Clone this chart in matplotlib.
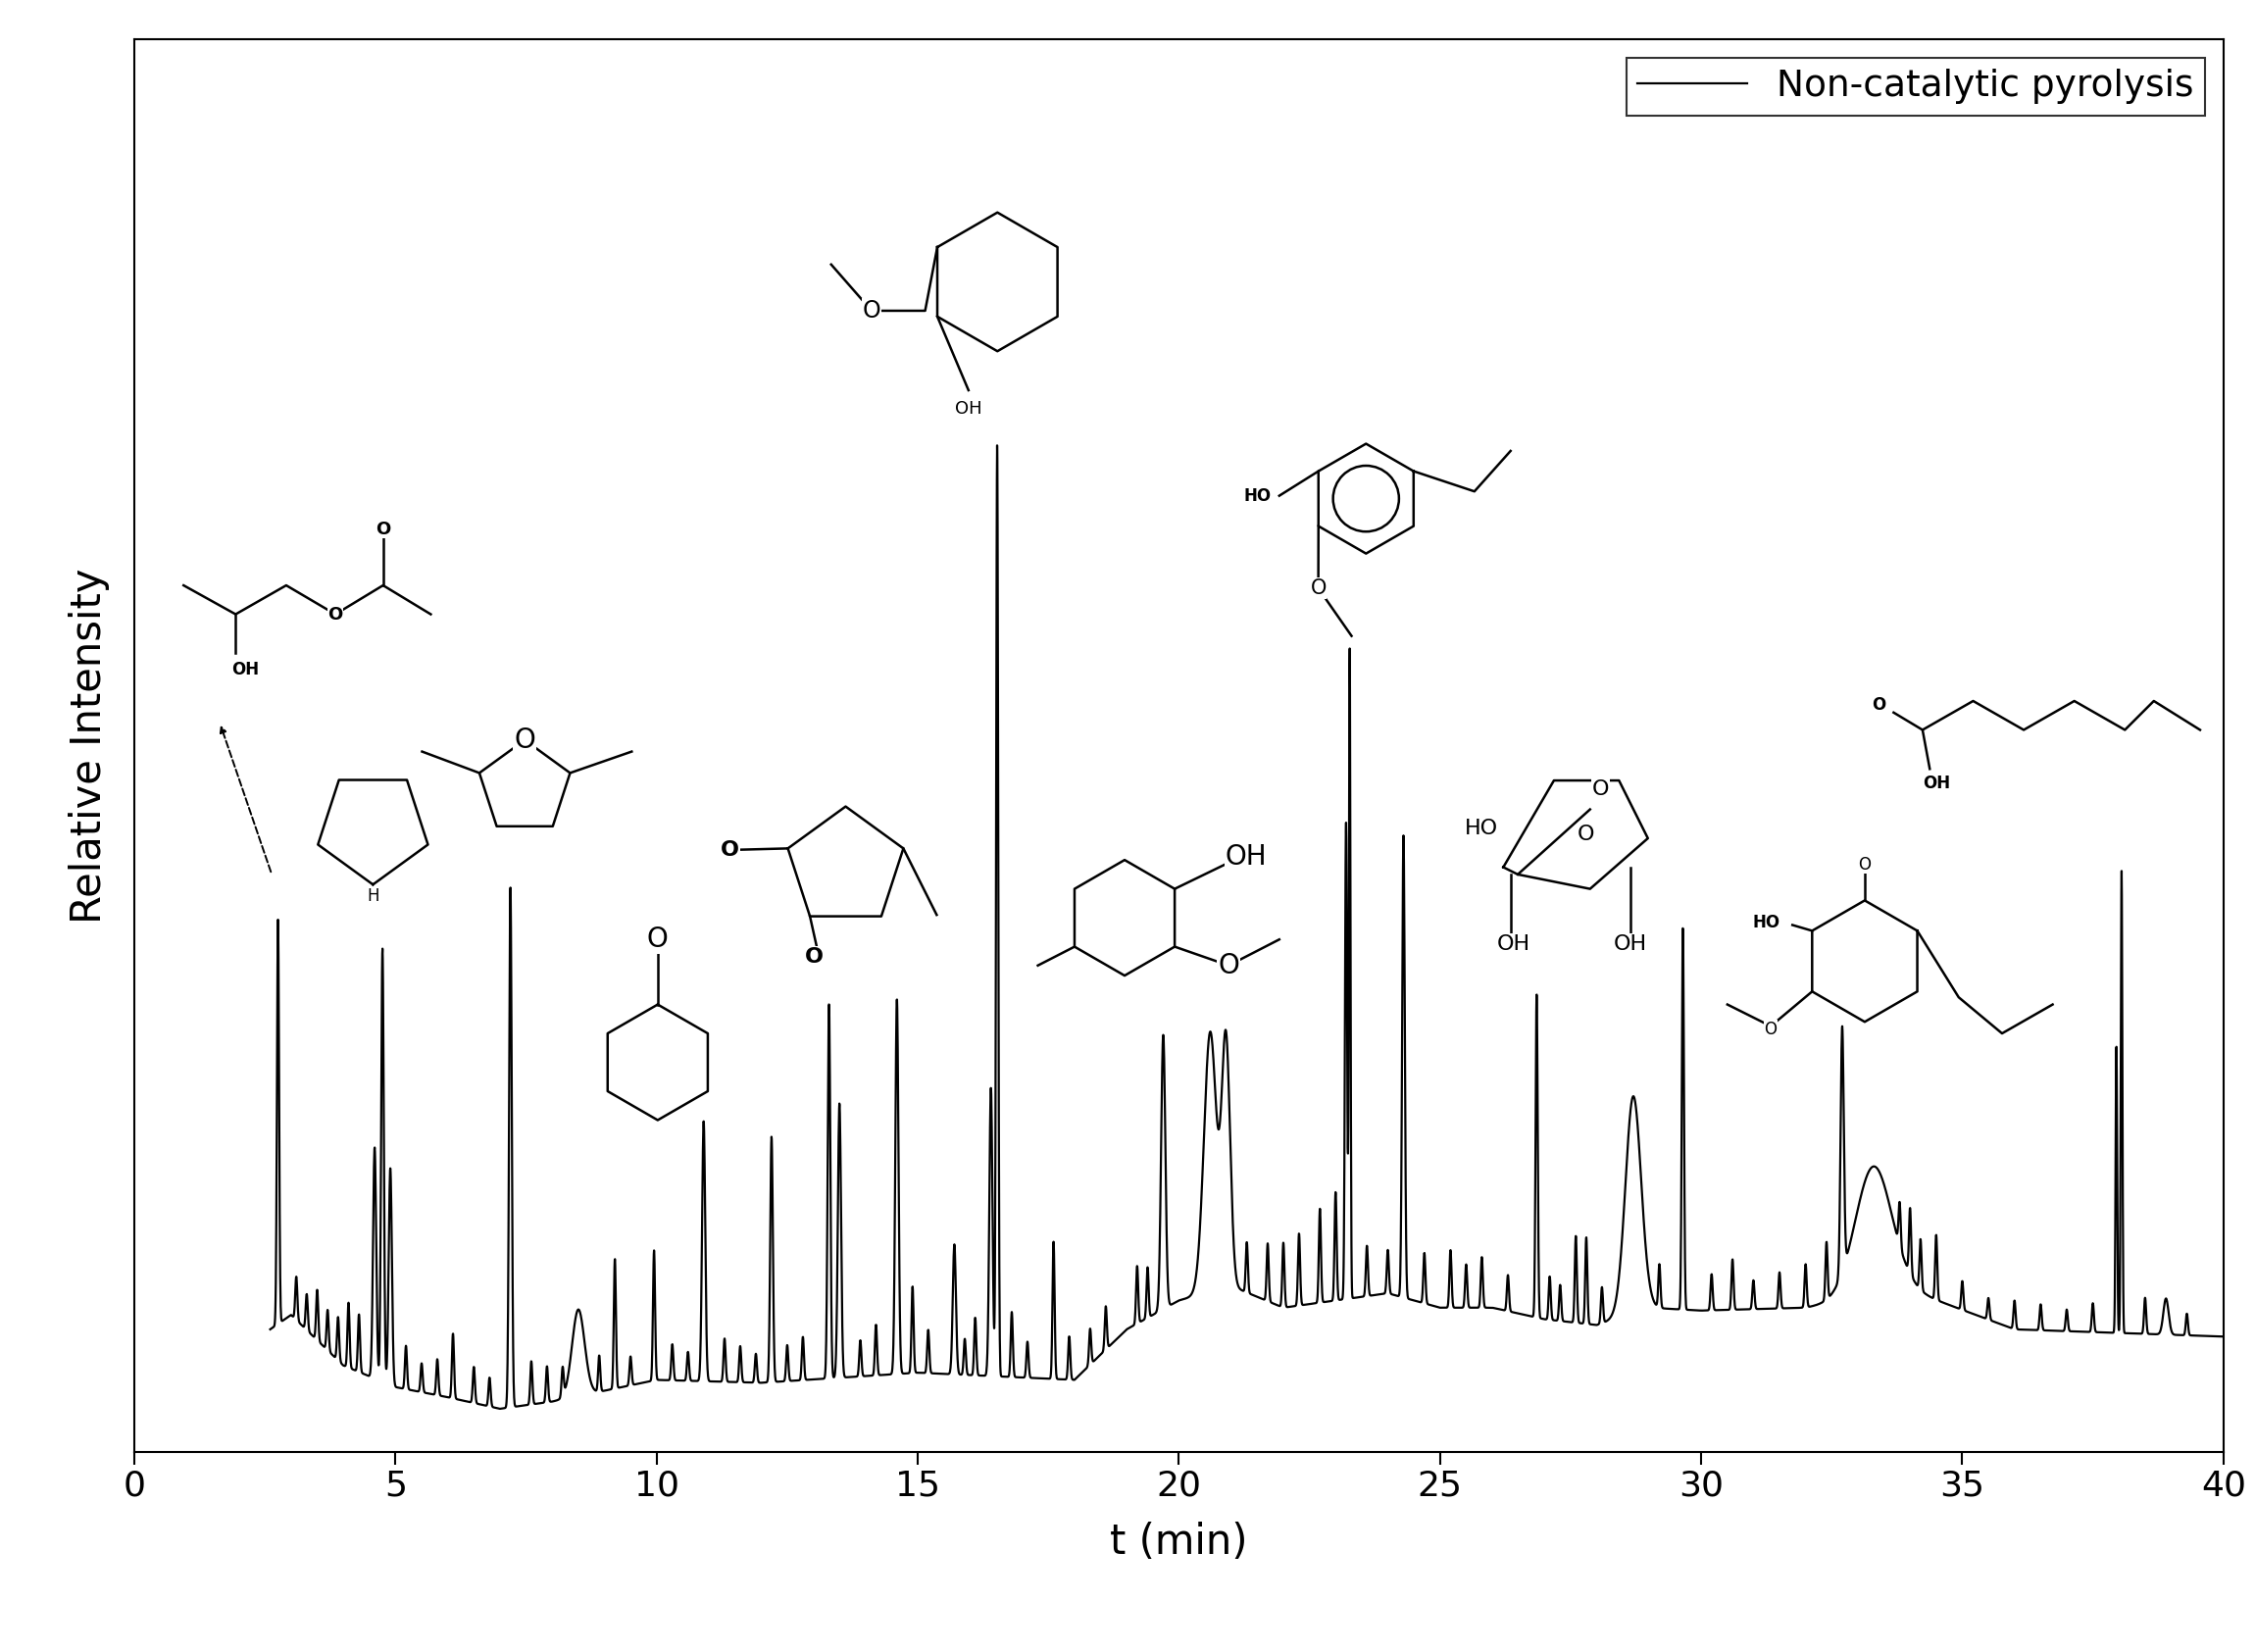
import numpy as np
import matplotlib.pyplot as plt

# baseline (time, relative intensity)
base_t = [2.6, 3.0, 4.0, 5.0, 6.0, 7.0, 8.0, 10.0, 12.0, 15.0, 18.0, 19.0, 20.0, 21.0, 22.0,
          24.0, 25.0, 26.0, 27.0, 28.0, 29.0, 30.0, 32.0, 34.0, 36.0, 40.0]
base_y = [85, 95, 60, 45, 38, 30, 35, 50, 48, 55, 50, 85, 105, 115, 100,
          110, 100, 100, 92, 88, 100, 98, 100, 112, 85, 80]

# main peaks: time, height above baseline, width (min)
pk_t = [2.75, 4.6, 4.75, 4.9, 7.2, 8.5, 9.2, 9.95, 10.9, 12.2, 13.3, 13.5, 14.6, 15.7,
        16.4, 16.52, 17.6, 19.7, 20.6, 20.9, 22.3, 22.7, 23.0, 23.2, 23.27, 24.3,
        25.2, 26.85, 27.6, 27.8, 28.7, 29.65, 32.7, 33.3, 34.0, 34.5, 37.95, 38.05, 38.9]
pk_h = [280, 160, 300, 150, 360, 60, 90, 90, 180, 170, 260, 190, 260, 90,
        200, 645, 95, 190, 180, 170, 50, 65, 75, 330, 450, 320,
        40, 225, 60, 60, 150, 265, 170, 90, 45, 45, 200, 320, 25]
pk_w = [0.02, 0.03, 0.025, 0.03, 0.025, 0.12, 0.02, 0.02, 0.03, 0.025, 0.025, 0.03, 0.03, 0.03,
        0.03, 0.02, 0.02, 0.04, 0.12, 0.08, 0.02, 0.02, 0.02, 0.02, 0.015, 0.025,
        0.02, 0.02, 0.02, 0.02, 0.15, 0.02, 0.03, 0.35, 0.02, 0.02, 0.015, 0.015, 0.05]

# small spikes (noise-like features)
sm_t = [3.1, 3.3, 3.5, 3.7, 3.9, 4.1, 4.3, 5.2, 5.5, 5.8, 6.1, 6.5, 6.8, 7.6, 7.9, 8.2,
        8.9, 9.5, 10.3, 10.6, 11.3, 11.6, 11.9, 12.5, 12.8, 13.9, 14.2, 14.9, 15.2, 15.9,
        16.1, 16.8, 17.1, 17.9, 18.3, 18.6, 19.2, 19.4, 21.3, 21.7, 22.0, 23.6, 24.0, 24.7,
        25.5, 25.8, 26.3, 27.1, 27.3, 28.1, 29.2, 30.2, 30.6, 31.0, 31.5, 32.0, 32.4, 33.8,
        34.2, 35.0, 35.5, 36.0, 36.5, 37.0, 37.5, 38.5, 39.3]
sm_h = [30, 25, 35, 28, 30, 45, 40, 30, 20, 25, 45, 25, 20, 30, 25, 20,
        25, 20, 25, 20, 30, 25, 20, 25, 30, 25, 35, 60, 30, 25,
        40, 45, 25, 30, 25, 30, 40, 35, 35, 40, 45, 35, 30, 35,
        30, 35, 25, 30, 25, 25, 30, 25, 35, 20, 25, 30, 40, 30,
        35, 20, 15, 20, 18, 15, 20, 25, 15]

t = np.linspace(2.6, 40, 8000)
y = np.interp(t, base_t, base_y)
for a, h, w in zip(pk_t + sm_t, pk_h + sm_h, pk_w + [0.02] * len(sm_t)):
    y = y + h * np.exp(-0.5 * ((t - a) / w) ** 2)

fig = plt.figure(figsize=(23, 16.85), dpi=100)
ax = fig.add_axes([0.0596, 0.121, 0.9264, 0.855])
ax.plot(t, y, color='black', lw=1.6, label='Non-catalytic pyrolysis')
ax.set_xlim(0, 40)
ax.set_ylim(0, 978)
ax.set_xticks(range(0, 41, 5))
ax.set_yticks([])
ax.tick_params(axis='x', labelsize=26, length=9, width=1.5, direction='out')
for s in ax.spines.values():
    s.set_linewidth(1.5)
ax.set_xlabel('t (min)', fontsize=30, labelpad=14)
ax.set_ylabel('Relative Intensity', fontsize=30, labelpad=18)
leg = ax.legend(loc='upper right', fontsize=27, fancybox=False, edgecolor='black',
                handlelength=3, borderaxespad=0.5, borderpad=0.3)
leg.get_frame().set_linewidth(1.5)

# overlay for structure sketches, in reference pixel units
ov = fig.add_axes([0, 0, 1, 1])
ov.set_xlim(0, 1560)
ov.set_ylim(1143, 0)
ov.axis('off')
kw = dict(color='black', lw=1.8)


def ring(cx, cy, r, n, rot=90, inner=False):
    a = np.radians(rot + np.arange(n + 1) * 360 / n)
    ov.plot(cx + r * np.cos(a), cy - r * np.sin(a), **kw)
    if inner:
        c = plt.Circle((cx, cy), r * 0.6, fill=False, lw=1.8)
        ov.add_patch(c)
    return cx + r * np.cos(a), cy - r * np.sin(a)


def lab(x, y0, s, fs=15, bold=False):
    ov.text(x, y0, s, fontsize=fs, ha='center', va='center',
            fontweight='bold' if bold else 'normal',
            bbox=dict(fc='white', ec='none', pad=0.5))


# propylene glycol acetate
ov.plot([127, 163, 198, 232, 265, 298], [405, 425, 405, 425, 405, 425], **kw)
ov.plot([163, 163], [425, 452], **kw)
ov.plot([265, 265], [405, 372], **kw)
lab(232, 425, 'O', 13, True)
lab(265, 366, 'O', 13, True)
lab(170, 463, 'OH', 12, True)
ov.annotate('', xy=(152, 500), xytext=(188, 605),
            arrowprops=dict(arrowstyle='-|>', ls='--', lw=1.4, color='black'))
# pyrrole
ring(258, 572, 40, 5, rot=-90)
lab(258, 620, 'H', 12)
# dimethylfuran
xs, ys = ring(363, 545, 33, 5, rot=90)
ov.plot([xs[1], 292], [ys[1], 520], **kw)
ov.plot([xs[4], 437], [ys[4], 520], **kw)
lab(363, 512, 'O', 20)
# cyclohexanone
xs, ys = ring(455, 735, 40, 6, rot=90)
ov.plot([455, 455], [695, 660], **kw)
lab(455, 650, 'O', 20)
# methylcyclopentanedione
xs, ys = ring(585, 600, 42, 5, rot=162)
ov.plot([xs[0], 508], [ys[0], 588], **kw)
ov.plot([xs[1], 565], [ys[1], 655], **kw)
ov.plot([xs[3], 648], [ys[3], 633], **kw)
lab(505, 588, 'O', 16, True)
lab(563, 662, 'O', 16, True)
# guaiacol
xs, ys = ring(690, 195, 48, 6, rot=150)
ov.plot([xs[0], 640, 603, 575], [ys[0], 215, 215, 183], **kw)
ov.plot([xs[1], 670], [ys[1], 270], **kw)
lab(603, 215, 'O', 17)
lab(670, 283, 'OH', 13)
# creosol
xs, ys = ring(778, 635, 40, 6, rot=30)
ov.plot([xs[0], 858], [ys[0], 593], **kw)
ov.plot([xs[5], 850, 885], [ys[5], 668, 650], **kw)
ov.plot([xs[3], 718], [ys[3], 668], **kw)
lab(862, 593, 'OH', 20)
lab(850, 668, 'O', 20)
# vinylguaiacol
xs, ys = ring(945, 345, 38, 6, rot=30, inner=True)
ov.plot([xs[2], 885], [ys[2], 343], **kw)
ov.plot([xs[0], 1020, 1045], [ys[0], 340, 312], **kw)
ov.plot([xs[3], 912, 935], [ys[3], 407, 440], **kw)
lab(870, 343, 'HO', 12, True)
lab(912, 407, 'O', 15)
# levoglucosan
ov.plot([1040, 1075, 1120, 1140, 1100, 1050, 1040], [600, 540, 540, 580, 615, 605, 600], **kw)
ov.plot([1050, 1100], [605, 560], **kw)
ov.plot([1045, 1045], [605, 645], **kw)
ov.plot([1128, 1128], [600, 645], **kw)
lab(1025, 573, 'HO', 16)
lab(1107, 546, 'O', 16)
lab(1097, 577, 'O', 16)
lab(1047, 653, 'OH', 16)
lab(1128, 653, 'OH', 16)
# propenyl syringol
xs, ys = ring(1290, 665, 42, 6, rot=30)
ov.plot([xs[1], 1290], [ys[1], 600], **kw)
ov.plot([xs[2], 1240], [ys[2], 640], **kw)
ov.plot([xs[3], 1225, 1195], [ys[3], 710, 695], **kw)
ov.plot([xs[0], 1355, 1385, 1420], [ys[0], 690, 715, 695], **kw)
lab(1290, 598, 'O', 12)
lab(1222, 638, 'HO', 12, True)
lab(1225, 712, 'O', 12)
# octanoic acid
ov.plot([1310, 1330, 1365, 1400, 1435, 1470, 1490, 1522],
        [493, 505, 485, 505, 485, 505, 485, 505], **kw)
ov.plot([1330, 1335], [505, 532], **kw)
lab(1300, 488, 'O', 12, True)
lab(1340, 542, 'OH', 12, True)

fig.savefig('out.png', dpi=100)
